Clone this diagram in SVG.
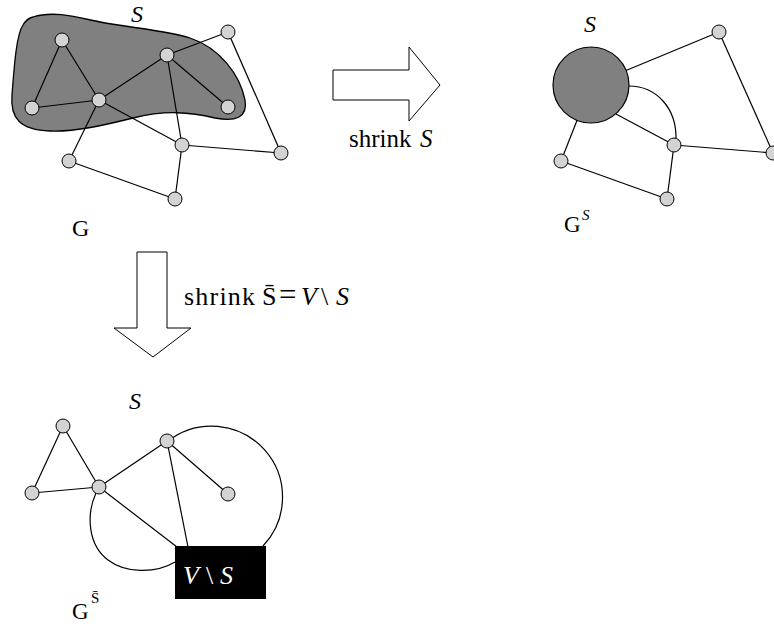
<svg xmlns="http://www.w3.org/2000/svg" width="774" height="624" viewBox="0 0 774 624">
<style>
.n{fill:#d3d3d3;stroke:#000;stroke-width:1}
.e{stroke:#000;stroke-width:1.2;fill:none}
.t{font-family:"Liberation Serif","Times New Roman",serif;fill:#000}
.i{font-style:italic}
.arrow{fill:#fff;stroke:#000;stroke-width:1}
</style>
<g id="blob"><path d="M 33,17 C 55,10 80,18 100,22 C 130,28 165,30 190,38 C 220,48 240,75 245,100 C 248,118 235,122 215,118 C 190,112 165,110 133,118 C 105,125 75,132 50,131 C 20,130 10,118 12,95 C 14,70 16,35 23,25 C 26,20 29,18 33,17 Z" fill="#808080" stroke="#000" stroke-width="1.3"/></g>
<g id="connectors">
<line class="e" x1="62" y1="40" x2="32" y2="108"/>
<line class="e" x1="62" y1="40" x2="99" y2="100"/>
<line class="e" x1="32" y1="108" x2="99" y2="100"/>
<line class="e" x1="99" y1="100" x2="167" y2="55"/>
<line class="e" x1="167" y1="55" x2="228" y2="32"/>
<line class="e" x1="167" y1="55" x2="228" y2="107"/>
<line class="e" x1="167" y1="55" x2="182" y2="145"/>
<line class="e" x1="99" y1="100" x2="182" y2="145"/>
<line class="e" x1="99" y1="100" x2="69" y2="161"/>
<line class="e" x1="69" y1="161" x2="175" y2="199"/>
<line class="e" x1="175" y1="199" x2="182" y2="145"/>
<line class="e" x1="182" y1="145" x2="281" y2="153"/>
<line class="e" x1="228" y1="32" x2="281" y2="153"/>
<line class="e" x1="591" y1="85" x2="719" y2="32"/>
<line class="e" x1="616" y1="114" x2="674" y2="145"/>
<line class="e" x1="591" y1="85" x2="561" y2="161"/>
<path class="e" d="M 629,86 C 656,86 677,108 676,140"/>
<line class="e" x1="561" y1="161" x2="667" y2="199"/>
<line class="e" x1="667" y1="199" x2="674" y2="145"/>
<line class="e" x1="674" y1="145" x2="773" y2="153"/>
<line class="e" x1="719" y1="32" x2="773" y2="153"/>
<line class="e" x1="63" y1="426" x2="32" y2="493"/>
<line class="e" x1="63" y1="426" x2="99" y2="487"/>
<line class="e" x1="32" y1="493" x2="99" y2="487"/>
<line class="e" x1="99" y1="487" x2="167" y2="441"/>
<line class="e" x1="167" y1="441" x2="228" y2="494"/>
<line class="e" x1="167" y1="441" x2="188" y2="547"/>
<line class="e" x1="99" y1="487" x2="177" y2="547"/>
<path class="e" d="M 168,441 A 71 71 0 0 1 263,546"/>
<path class="e" d="M 96,493 C 86,515 88,545 108,560 C 125,573 155,574 175,562"/>
</g>
<g id="arrow-right"><polygon class="arrow" points="333,70 409,70 409,47 440,85 409,121 409,100 333,100"/></g>
<g id="arrow-down"><polygon class="arrow" points="137,252 167,252 167,328 191,328 153,357 114,328 137,328"/></g>
<g id="S-node"><circle cx="591" cy="85" r="38" fill="#808080" stroke="#000" stroke-width="1.2"/></g>
<g id="VS-node"><rect x="175" y="546" width="91" height="53" fill="#000"/>
<text class="t" y="584" font-size="26" style="fill:#fff"><tspan class="i" x="183">V</tspan><tspan x="206">\</tspan><tspan class="i" x="220">S</tspan></text></g>
<g id="nodes">
<circle class="n" cx="62" cy="40" r="7"/>
<circle class="n" cx="32" cy="108" r="7"/>
<circle class="n" cx="99" cy="100" r="7"/>
<circle class="n" cx="167" cy="55" r="7"/>
<circle class="n" cx="228" cy="107" r="7"/>
<circle class="n" cx="228" cy="32" r="7"/>
<circle class="n" cx="182" cy="145" r="7"/>
<circle class="n" cx="281" cy="153" r="7"/>
<circle class="n" cx="69" cy="161" r="7"/>
<circle class="n" cx="175" cy="199" r="7"/>
<circle class="n" cx="719" cy="32" r="7"/>
<circle class="n" cx="674" cy="145" r="7"/>
<circle class="n" cx="773" cy="153" r="7"/>
<circle class="n" cx="561" cy="161" r="7"/>
<circle class="n" cx="667" cy="199" r="7"/>
<circle class="n" cx="63" cy="426" r="7"/>
<circle class="n" cx="32" cy="493" r="7"/>
<circle class="n" cx="99" cy="487" r="7"/>
<circle class="n" cx="167" cy="441" r="7"/>
<circle class="n" cx="228" cy="494" r="7"/>
</g>
<g id="labels">
<text class="t i" x="131" y="22" font-size="24">S</text>
<text class="t" x="72" y="236" font-size="24">G</text>
<text class="t" y="147" font-size="25"><tspan x="349">shrink</tspan><tspan class="i" x="420">S</tspan></text>
<text class="t i" x="584" y="32" font-size="24">S</text>
<text class="t" x="564" y="232" font-size="23">G<tspan class="i" font-size="15" x="582" y="220">S</tspan></text>
<text class="t" y="305" font-size="26"><tspan x="184" textLength="71">shrink</tspan><tspan x="262">S̄</tspan><tspan x="279" font-size="31">=</tspan><tspan class="i" x="301">V</tspan><tspan x="321">\</tspan><tspan class="i" x="336">S</tspan></text>
<text class="t i" x="129" y="409" font-size="24">S</text>
<text class="t" x="72" y="619" font-size="23">G<tspan font-size="15" x="91" y="603">S̄</tspan></text>
</g>
</svg>
